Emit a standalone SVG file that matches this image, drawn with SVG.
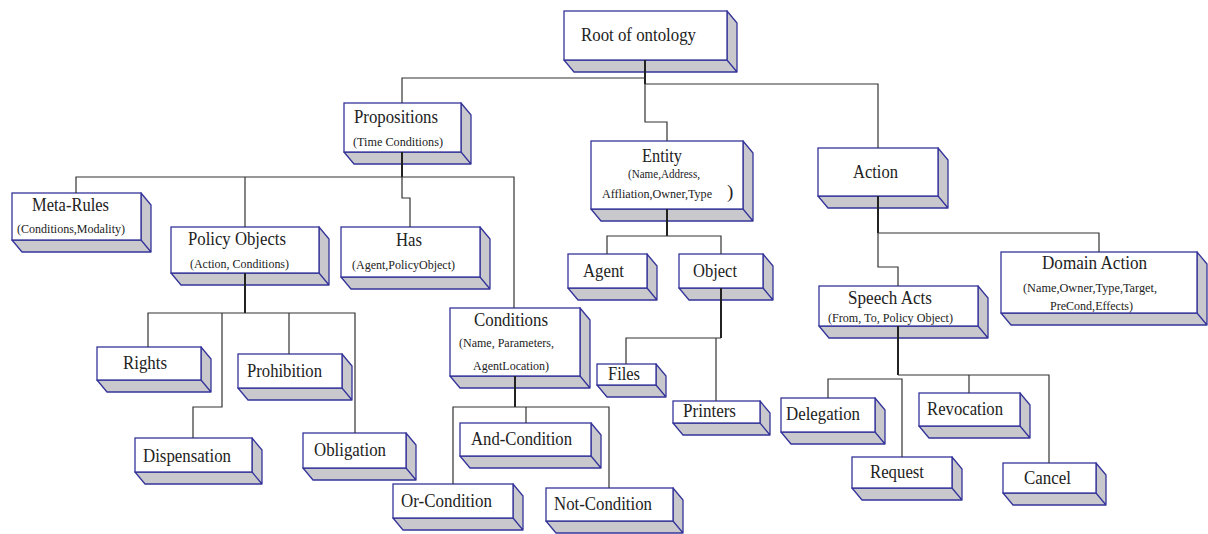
<svg xmlns="http://www.w3.org/2000/svg" width="1208" height="534" viewBox="0 0 1208 534">
  <style>
    .front { fill: #ffffff; stroke: #34349a; stroke-width: 1.3; }
    .side { fill: #c9c9cd; stroke: #34349a; stroke-width: 1.3; stroke-linejoin: round; }
    .t { font-family: "Liberation Serif", "Times New Roman", serif; font-size: 19px; fill: #222; }
    .s { font-size: 13.5px; }
    .wire { fill: none; stroke: #333; stroke-width: 1.2; }
    .thick { stroke-width: 2; stroke: #222; }
  </style>
  <rect width="1208" height="534" fill="#ffffff"/>

  <!-- nodes: front face + extruded bottom/right faces -->
  <g id="root">
    <path class="side" d="M564,60 L574,72 L737,72 L727,60Z M727,11 L737,23 L737,72 L727,60Z"/>
    <rect class="front" x="564" y="11" width="163" height="49"/>
    <text class="t" x="581" y="41" textLength="115" lengthAdjust="spacingAndGlyphs">Root of ontology</text>
  </g>
  <g id="propositions">
    <path class="side" d="M344,152 L354,164 L471,164 L461,152Z M461,103 L471,115 L471,164 L461,152Z"/>
    <rect class="front" x="344" y="103" width="117" height="49"/>
    <text class="t" x="354" y="123" textLength="84" lengthAdjust="spacingAndGlyphs">Propositions</text>
    <text class="t s" x="353" y="146" textLength="90" lengthAdjust="spacingAndGlyphs">(Time Conditions)</text>
  </g>
  <g id="meta-rules">
    <path class="side" d="M12,240 L22,252 L151,252 L141,240Z M141,193 L151,205 L151,252 L141,240Z"/>
    <rect class="front" x="12" y="193" width="129" height="47"/>
    <text class="t" x="32" y="211" textLength="77" lengthAdjust="spacingAndGlyphs">Meta-Rules</text>
    <text class="t s" x="17" y="233" textLength="108" lengthAdjust="spacingAndGlyphs">(Conditions,Modality)</text>
  </g>
  <g id="policy-objects">
    <path class="side" d="M171,273 L181,285 L329,285 L319,273Z M319,227 L329,239 L329,285 L319,273Z"/>
    <rect class="front" x="171" y="227" width="148" height="46"/>
    <text class="t" x="188" y="245" textLength="98" lengthAdjust="spacingAndGlyphs">Policy Objects</text>
    <text class="t s" x="190" y="268" textLength="99" lengthAdjust="spacingAndGlyphs">(Action, Conditions)</text>
  </g>
  <g id="has">
    <path class="side" d="M341,277 L351,289 L490,289 L480,277Z M480,227 L490,239 L490,289 L480,277Z"/>
    <rect class="front" x="341" y="227" width="139" height="50"/>
    <text class="t" x="396" y="246" textLength="26" lengthAdjust="spacingAndGlyphs">Has</text>
    <text class="t s" x="352" y="269" textLength="103" lengthAdjust="spacingAndGlyphs">(Agent,PolicyObject)</text>
  </g>
  <g id="conditions">
    <path class="side" d="M450,376 L460,388 L590,388 L580,376Z M580,308 L590,320 L590,388 L580,376Z"/>
    <rect class="front" x="450" y="308" width="130" height="68"/>
    <text class="t" x="474" y="326" textLength="74" lengthAdjust="spacingAndGlyphs">Conditions</text>
    <text class="t s" x="459" y="347" textLength="95" lengthAdjust="spacingAndGlyphs">(Name, Parameters,</text>
    <text class="t s" x="473" y="370" textLength="76" lengthAdjust="spacingAndGlyphs">AgentLocation)</text>
  </g>
  <g id="and-condition">
    <path class="side" d="M460,456 L470,468 L601,468 L591,456Z M591,423 L601,435 L601,468 L591,456Z"/>
    <rect class="front" x="460" y="423" width="131" height="33"/>
    <text class="t" x="471" y="445" textLength="101" lengthAdjust="spacingAndGlyphs">And-Condition</text>
  </g>
  <g id="or-condition">
    <path class="side" d="M393,518 L403,530 L523,530 L513,518Z M513,484 L523,496 L523,530 L513,518Z"/>
    <rect class="front" x="393" y="484" width="120" height="34"/>
    <text class="t" x="401" y="507" textLength="91" lengthAdjust="spacingAndGlyphs">Or-Condition</text>
  </g>
  <g id="not-condition">
    <path class="side" d="M546,521 L556,533 L683,533 L673,521Z M673,488 L683,500 L683,533 L673,521Z"/>
    <rect class="front" x="546" y="488" width="127" height="33"/>
    <text class="t" x="554" y="510" textLength="98" lengthAdjust="spacingAndGlyphs">Not-Condition</text>
  </g>
  <g id="entity">
    <path class="side" d="M591,209 L601,221 L753,221 L743,209Z M743,141 L753,153 L753,221 L743,209Z"/>
    <rect class="front" x="591" y="141" width="152" height="68"/>
    <text class="t" x="642" y="162" textLength="40" lengthAdjust="spacingAndGlyphs">Entity</text>
    <text class="t s" x="628" y="178" textLength="72" lengthAdjust="spacingAndGlyphs">(Name,Address,</text>
    <text class="t s" x="602" y="198" textLength="110" lengthAdjust="spacingAndGlyphs">Affliation,Owner,Type</text>
    <text class="t" x="727" y="198" font-size="16">)</text>
  </g>
  <g id="agent">
    <path class="side" d="M568,288 L578,300 L657,300 L647,288Z M647,254 L657,266 L657,300 L647,288Z"/>
    <rect class="front" x="568" y="254" width="79" height="34"/>
    <text class="t" x="583" y="277" textLength="41" lengthAdjust="spacingAndGlyphs">Agent</text>
  </g>
  <g id="object">
    <path class="side" d="M679,288 L689,300 L773,300 L763,288Z M763,254 L773,266 L773,300 L763,288Z"/>
    <rect class="front" x="679" y="254" width="84" height="34"/>
    <text class="t" x="693" y="277" textLength="44" lengthAdjust="spacingAndGlyphs">Object</text>
  </g>
  <g id="files">
    <path class="side" d="M597,385 L607,397 L666,397 L656,385Z M656,364 L666,376 L666,397 L656,385Z"/>
    <rect class="front" x="597" y="364" width="59" height="21"/>
    <text class="t" x="608" y="380" textLength="32" lengthAdjust="spacingAndGlyphs">Files</text>
  </g>
  <g id="printers">
    <path class="side" d="M673,423 L683,435 L770,435 L760,423Z M760,401 L770,413 L770,435 L760,423Z"/>
    <rect class="front" x="673" y="401" width="87" height="22"/>
    <text class="t" x="683" y="417" textLength="53" lengthAdjust="spacingAndGlyphs">Printers</text>
  </g>
  <g id="action">
    <path class="side" d="M818,196 L828,208 L948,208 L938,196Z M938,148 L948,160 L948,208 L938,196Z"/>
    <rect class="front" x="818" y="148" width="120" height="48"/>
    <text class="t" x="853" y="178" textLength="45" lengthAdjust="spacingAndGlyphs">Action</text>
  </g>
  <g id="domain-action">
    <path class="side" d="M1001,313 L1011,325 L1207,325 L1197,313Z M1197,252 L1207,264 L1207,325 L1197,313Z"/>
    <rect class="front" x="1001" y="252" width="196" height="61"/>
    <text class="t" x="1042" y="269" textLength="105" lengthAdjust="spacingAndGlyphs">Domain Action</text>
    <text class="t s" x="1023" y="292" textLength="134" lengthAdjust="spacingAndGlyphs">(Name,Owner,Type,Target,</text>
    <text class="t s" x="1050" y="310" textLength="83" lengthAdjust="spacingAndGlyphs">PreCond,Effects)</text>
  </g>
  <g id="speech-acts">
    <path class="side" d="M819,326 L829,338 L988,338 L978,326Z M978,286 L988,298 L988,338 L978,326Z"/>
    <rect class="front" x="819" y="286" width="159" height="40"/>
    <text class="t" x="848" y="304" textLength="84" lengthAdjust="spacingAndGlyphs">Speech Acts</text>
    <text class="t s" x="828" y="322" textLength="125" lengthAdjust="spacingAndGlyphs">(From, To, Policy Object)</text>
  </g>
  <g id="delegation">
    <path class="side" d="M781,432 L791,444 L885,444 L875,432Z M875,398 L885,410 L885,444 L875,432Z"/>
    <rect class="front" x="781" y="398" width="94" height="34"/>
    <text class="t" x="786" y="420" textLength="74" lengthAdjust="spacingAndGlyphs">Delegation</text>
  </g>
  <g id="revocation">
    <path class="side" d="M919,426 L929,438 L1030,438 L1020,426Z M1020,393 L1030,405 L1030,438 L1020,426Z"/>
    <rect class="front" x="919" y="393" width="101" height="33"/>
    <text class="t" x="927" y="415" textLength="76" lengthAdjust="spacingAndGlyphs">Revocation</text>
  </g>
  <g id="request">
    <path class="side" d="M852,488 L862,500 L962,500 L952,488Z M952,457 L962,469 L962,500 L952,488Z"/>
    <rect class="front" x="852" y="457" width="100" height="31"/>
    <text class="t" x="870" y="478" textLength="54" lengthAdjust="spacingAndGlyphs">Request</text>
  </g>
  <g id="cancel">
    <path class="side" d="M1003,493 L1013,505 L1106,505 L1096,493Z M1096,463 L1106,475 L1106,505 L1096,493Z"/>
    <rect class="front" x="1003" y="463" width="93" height="30"/>
    <text class="t" x="1024" y="484" textLength="47" lengthAdjust="spacingAndGlyphs">Cancel</text>
  </g>
  <g id="rights">
    <path class="side" d="M97,380 L107,392 L211,392 L201,380Z M201,347 L211,359 L211,392 L201,380Z"/>
    <rect class="front" x="97" y="347" width="104" height="33"/>
    <text class="t" x="123" y="369" textLength="44" lengthAdjust="spacingAndGlyphs">Rights</text>
  </g>
  <g id="prohibition">
    <path class="side" d="M238,388 L248,400 L352,400 L342,388Z M342,354 L352,366 L352,400 L342,388Z"/>
    <rect class="front" x="238" y="354" width="104" height="34"/>
    <text class="t" x="247" y="377" textLength="75" lengthAdjust="spacingAndGlyphs">Prohibition</text>
  </g>
  <g id="dispensation">
    <path class="side" d="M135,472 L145,484 L262,484 L252,472Z M252,438 L262,450 L262,484 L252,472Z"/>
    <rect class="front" x="135" y="438" width="117" height="34"/>
    <text class="t" x="143" y="462" textLength="88" lengthAdjust="spacingAndGlyphs">Dispensation</text>
  </g>
  <g id="obligation">
    <path class="side" d="M303,468 L313,480 L416,480 L406,468Z M406,433 L416,445 L416,480 L406,468Z"/>
    <rect class="front" x="303" y="433" width="103" height="35"/>
    <text class="t" x="314" y="456" textLength="72" lengthAdjust="spacingAndGlyphs">Obligation</text>
  </g>

  <!-- connectors: orthogonal tree links, drawn over the box faces -->
  <g id="connectors">
    <path class="wire thick" d="M645,60 V84"/>
    <path class="wire" d="M645,84 V122 H667 V141"/>
    <path class="wire" d="M645,78 H402 V103"/>
    <path class="wire" d="M645,84 H878 V148"/>

    <path class="wire thick" d="M402,152 V177"/>
    <path class="wire" d="M76,193 V177 H514 V308"/>
    <path class="wire" d="M245,177 V227"/>
    <path class="wire" d="M402,177 V198 H410 V227"/>

    <path class="wire thick" d="M245,273 V313"/>
    <path class="wire" d="M148,347 V313 H355 V433"/>
    <path class="wire" d="M222,313 V407 H193 V438"/>
    <path class="wire" d="M289,313 V354"/>

    <path class="wire thick" d="M515,376 V407"/>
    <path class="wire" d="M453,484 V407 H609 V488"/>
    <path class="wire" d="M526,407 V423"/>

    <path class="wire thick" d="M667,209 V236"/>
    <path class="wire" d="M607,254 V236 H721 V254"/>

    <path class="wire thick" d="M721,288 V338"/>
    <path class="wire" d="M721,338 H626 V364"/>
    <path class="wire" d="M716,338 V401"/>

    <path class="wire thick" d="M878,196 V233"/>
    <path class="wire" d="M878,233 V267 H898 V286"/>
    <path class="wire" d="M878,233 H1099 V252"/>

    <path class="wire thick" d="M898,326 V375"/>
    <path class="wire" d="M898,375 H1049 V463"/>
    <path class="wire" d="M969,375 V393"/>
    <path class="wire" d="M828,398 V379 H902 V457"/>
  </g>
</svg>
